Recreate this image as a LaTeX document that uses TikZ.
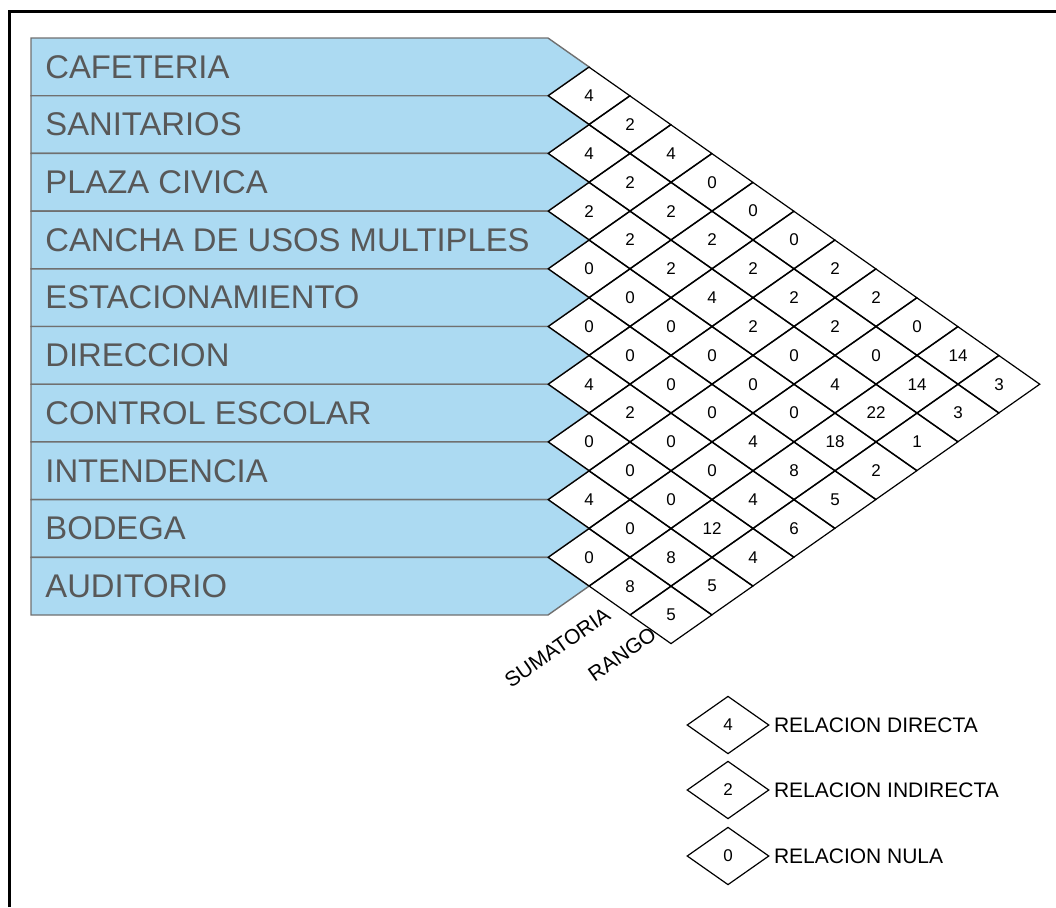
\documentclass[tikz,border=0pt]{standalone}
\usepackage{fontspec}
\setmainfont{Liberation Sans}
\usepackage{xcolor}
\usepackage{tikz}
\usetikzlibrary{shapes.geometric, positioning}
\definecolor{rowblue}{RGB}{172, 218, 242}
\definecolor{edgegray}{RGB}{112, 112, 112}
\definecolor{textgray}{RGB}{88, 88, 88}

\begin{document}
\begin{tikzpicture}[
    x=0.5pt, y=-0.5pt,
    rowbox/.style={draw=edgegray, fill=rowblue, line width=0.7pt},
    rowtext/.style={text=textgray, font=\fontsize{16.4}{18}\selectfont, inner sep=0pt, anchor=west},
    cell/.style={draw=black, diamond, aspect=1.42, minimum width=41pt, minimum height=28.85pt, inner sep=0pt, line width=0.6pt, font=\fontsize{8.5}{10}\selectfont},
    axistext/.style={font=\fontsize{10.5}{12}\selectfont, rotate=35, anchor=east, inner sep=0pt},
    keytext/.style={font=\fontsize{10.5}{12}\selectfont, inner sep=0pt}
]
    \useasboundingbox (0,0) rectangle (1056,907);
    \draw[line width=1.5pt] (9,907) -- (9,11) -- (1056,11);

    % rows of spaces
    \foreach \name [count=\k from 0] in {CAFETERIA, SANITARIOS, PLAZA CIVICA, CANCHA DE USOS MULTIPLES, ESTACIONAMIENTO, DIRECCION, CONTROL ESCOLAR, INTENDENCIA, BODEGA, AUDITORIO} {
        \pgfmathsetmacro\ytop{38+57.7*\k}
        \filldraw[rowbox] (31,\ytop) -- (548,\ytop) -- (589,{\ytop+28.85}) -- (548,{\ytop+57.7}) -- (31,{\ytop+57.7}) -- cycle;
        \node[rowtext] (row-\k) at (45,{\ytop+28.85}) {\name};
    }

    % relation matrix, with sumatoria and rango
    \foreach \i/\vals in {0/{4,2,4,0,0,0,2,2,0,14,3}, 1/{4,2,2,2,2,2,2,0,14,3}, 2/{2,2,2,4,2,0,4,22,1}, 3/{0,0,0,0,0,0,18,2}, 4/{0,0,0,0,4,8,5}, 5/{4,2,0,0,4,6}, 6/{0,0,0,12,4}, 7/{4,0,8,5}, 8/{0,8,5}} {
        \foreach \v [count=\n] in \vals {
            \pgfmathtruncatemacro\j{\i+\n}
            \node[cell] (c-\i-\j) at ({548+41*(\j-\i)},{38+28.85*(\i+\j+1)}) {\v};
        }
    }

    \node[axistext] (sumatoria) at (608,612) {SUMATORIA};
    \node[axistext] (rango) at (654,632) {RANGO};

    % key
    \node[cell] (key-4) at (728,725) {4};
    \node[cell] (key-2) at (728,790) {2};
    \node[cell] (key-0) at (728,856) {0};
    \node[keytext, right=2pt of key-4] (directa) {RELACION DIRECTA};
    \node[keytext, right=2pt of key-2] (indirecta) {RELACION INDIRECTA};
    \node[keytext, right=2pt of key-0] (nula) {RELACION NULA};
\end{tikzpicture}
\end{document}
